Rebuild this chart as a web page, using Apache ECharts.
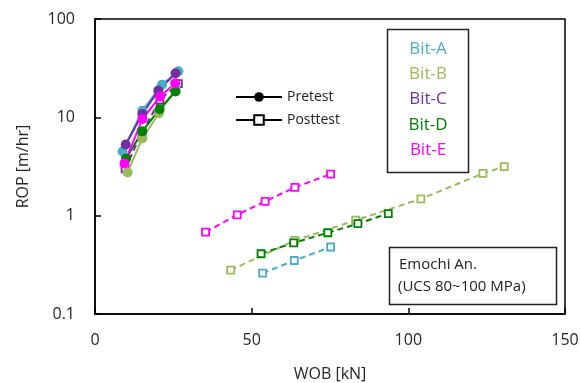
<!DOCTYPE html>
<html><head><meta charset="utf-8">
<script src="https://cdn.jsdelivr.net/npm/echarts@6/dist/echarts.min.js"></script>
<style>html,body{margin:0;padding:0;background:#fff}#c{width:580px;height:383px}</style>
</head><body><div id="c"></div>
<script>
const bits = ['Bit-A','Bit-B','Bit-C','Bit-D','Bit-E'];
const colors = ['#4bacc6','#9bbb59','#7030a0','#008000','#ff00ff'];
const xTicks = [0,50,100,150];
const yTicks = [0.1,1,10,100];
// Pretest [WOB kN, ROP m/hr]
const preA = [[8.8,4.5],[15.1,11.7],[21.4,21.5],[26.6,29.4]];
const preB = [[10.4,2.75],[15.1,6.1],[20.4,11.0],[25.7,19.5]];
const preC = [[9.8,5.3],[15.1,10.8],[20.2,18.7],[25.7,28.1]];
const preD = [[9.9,3.8],[15.1,7.2],[20.6,12.1],[25.7,18.3]];
const preE = [[9.4,3.4],[15.1,9.6],[20.8,16.3],[25.6,22.2]];
// Posttest
const postA = [[53.5,0.26],[63.6,0.35],[75.2,0.48]];
const postB = [[43.3,0.28],[63.8,0.56],[83.2,0.90],[104.0,1.48],[123.8,2.69],[130.6,3.16]];
const postC = [[9.6,3.0],[15.0,7.0],[20.7,15.0],[26.6,22.0]];
const postD = [[53.0,0.41],[63.4,0.53],[74.3,0.67],[83.9,0.83],[93.6,1.05]];
const postE = [[35.3,0.68],[45.4,1.02],[54.3,1.40],[63.8,1.94],[75.2,2.65]];

const pre = [preA,preB,preC,preD,preE];
const post = [postA,postB,postC,postD,postE];

const series = [];
post.forEach((d,i)=>{
  series.push({type:'line',name:bits[i]+' post',data:d,symbol:'rect',symbolSize:7,
    lineStyle:{color:colors[i],width:2,type:[6,4]},
    itemStyle:{color:'#fff',borderColor:colors[i],borderWidth:1.8},z:2,silent:true});
});
pre.forEach((d,i)=>{
  series.push({type:'line',name:bits[i]+' pre',data:d,symbol:'circle',symbolSize:10,
    lineStyle:{color:colors[i],width:2},itemStyle:{color:colors[i]},z:3,silent:true});
});
series.push({type:'line',name:'Pretest',data:[],symbol:'circle',symbolSize:12,
  lineStyle:{color:'#000',width:1.5},itemStyle:{color:'#000'}});
series.push({type:'line',name:'Posttest',data:[],symbol:'rect',symbolSize:11,
  lineStyle:{color:'#000',width:1.5},itemStyle:{color:'#fff',borderColor:'#000',borderWidth:1.5}});

const font = 'Open Sans, Calibri, Liberation Sans, sans-serif';
const chart = echarts.init(document.getElementById('c'),null,{renderer:'canvas'});
chart.setOption({
  animation:false,
  backgroundColor:'#fff',
  grid:{left:95,right:15,top:19,bottom:69,containLabel:false,outerBoundsMode:'none',
    show:true,borderColor:'#000',borderWidth:1.5,backgroundColor:'transparent'},
  xAxis:{type:'value',min:0,max:150,interval:50,
    name:'WOB [kN]',nameLocation:'middle',nameGap:52,
    nameTextStyle:{fontFamily:font,fontSize:16,color:'#262626'},
    axisLine:{show:true,lineStyle:{color:'#000',width:1.5}},
    axisTick:{show:true,inside:true,length:6,lineStyle:{color:'#000',width:1.5}},
    axisLabel:{fontFamily:font,fontSize:16,color:'#262626',margin:18,
      formatter:v=>xTicks.includes(v)?String(v):''},
    splitLine:{show:false}},
  yAxis:{type:'log',logBase:10,min:0.1,max:100,
    name:'ROP [m/hr]',nameLocation:'middle',nameGap:64,nameRotate:90,
    nameTextStyle:{fontFamily:font,fontSize:16,color:'#262626'},
    axisLine:{show:true,lineStyle:{color:'#000',width:1.5}},
    axisTick:{show:true,inside:true,length:6,lineStyle:{color:'#000',width:1.5}},
    axisLabel:{fontFamily:font,fontSize:16,color:'#262626',margin:20,
      formatter:v=>{const t=yTicks.find(x=>Math.abs(x-v)<1e-9);return t===undefined?'':String(t);}},
    minorTick:{show:false},
    splitLine:{show:false}},
  legend:{data:['Pretest','Posttest'],orient:'vertical',left:230,top:85,itemWidth:46,itemHeight:12,itemGap:9,
    textStyle:{fontFamily:font,fontSize:14,color:'#222'},selectedMode:false},
  series:series,
  graphic:[
    {type:'rect',shape:{x:387.5,y:29.5,width:81,height:143},style:{fill:'#fff',stroke:'#222',lineWidth:1.5},z:10},
    ...bits.map((b,i)=>({type:'text',x:428,y:49+i*25.3,z:11,
      style:{text:b,fill:colors[i],font:'17px '+font,align:'center',verticalAlign:'middle'}})),
    {type:'rect',shape:{x:389.5,y:247.5,width:167,height:57},style:{fill:'#fff',stroke:'#222',lineWidth:1.5},z:10},
    {type:'text',x:399,y:265,z:11,style:{text:'Emochi An.',fill:'#222',font:'15px '+font,verticalAlign:'middle'}},
    {type:'text',x:398,y:287,z:11,style:{text:'(UCS 80~100 MPa)',fill:'#222',font:'15px '+font,verticalAlign:'middle'}}
  ]
});
</script></body></html>
